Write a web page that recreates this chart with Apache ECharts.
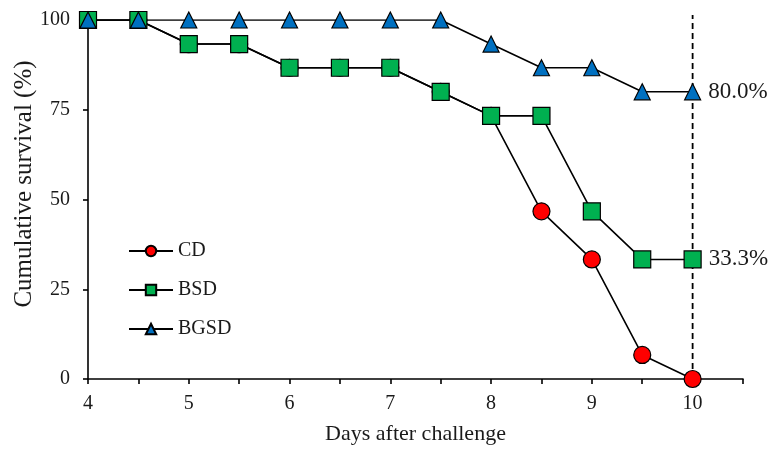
<!DOCTYPE html>
<html><head><meta charset="utf-8">
<script src="https://cdn.jsdelivr.net/npm/echarts@6/dist/echarts.min.js"></script>
<style>html,body{margin:0;padding:0;background:#fff}#c{width:769px;height:450px}</style>
</head><body><div id="c"></div>
<script>
const days = [4, 4.5, 5, 5.5, 6, 6.5, 7, 7.5, 8, 8.5, 9, 9.5, 10];
const cd   = [100, 100, 93.3, 93.3, 86.7, 86.7, 86.7, 80, 73.3, 46.7, 33.3, 6.7, 0];
const bsd  = [100, 100, 93.3, 93.3, 86.7, 86.7, 86.7, 80, 73.3, 73.3, 46.7, 33.3, 33.3];
const bgsd = [100, 100, 100, 100, 100, 100, 100, 100, 93.3, 86.7, 86.7, 80, 80];
const seriesNames = ['CD', 'BSD', 'BGSD'];
const endLabels = [null, '33.3%', '80.0%'];
const yTicks = [0, 25, 50, 75, 100];
const refDay = [10, 10];
const refRange = [0, 101.4];

const font = 'Liberation Serif';
const txt = '#1a1a1a';
function mk(name, vals, sym, size, color, lbl) {
  return {
    name, type: 'line', symbol: sym, symbolSize: size,
    z: 3,
    data: vals.map((v, i) => {
      const d = { value: [days[i], v] };
      if (lbl && i === vals.length - 1) {
        d.label = { show: true, position: 'right', distance: 7, formatter: lbl,
          fontFamily: font, fontSize: 23, color: txt };
      }
      return d;
    }),
    lineStyle: { color: '#000', width: 1.6 },
    itemStyle: { color: color, borderColor: '#000', borderWidth: 1.2 },
    emphasis: { disabled: true },
    animation: false
  };
}
const series = [
  {
    name: 'ref', type: 'line', symbol: 'none', clip: false, z: 1,
    data: refDay.map((d, i) => [d, refRange[i]]),
    lineStyle: { color: '#000', width: 1.8, type: [6, 4] },
    emphasis: { disabled: true }, silent: true, animation: false
  },
  mk(seriesNames[0], cd, 'circle', 17, '#FF0000', endLabels[0]),
  mk(seriesNames[1], bsd, 'rect', 17, '#00B050', endLabels[1]),
  mk(seriesNames[2], bgsd, 'triangle', 16, '#0070C0', endLabels[2])
];

const chart = echarts.init(document.getElementById('c'), null, { renderer: 'canvas' });
chart.setOption({
  animation: false,
  grid: { left: 88, right: 26, top: 20, bottom: 68, containLabel: false },
  legend: {
    orient: 'vertical', left: 123, top: 236, itemWidth: 44, itemHeight: 13, itemGap: 19,
    data: seriesNames,
    textStyle: { fontFamily: font, fontSize: 20, color: txt }
  },
  graphic: [{
    type: 'text', x: 24, y: 184, rotation: Math.PI / 2,
    style: { text: 'Cumulative survival (%)', fontFamily: font, fontSize: 25, fill: txt,
      textAlign: 'center', textVerticalAlign: 'middle' }
  }],
  xAxis: {
    type: 'value', min: 4, max: 10.5, interval: 0.5,
    name: 'Days after challenge', nameLocation: 'middle', nameGap: 44,
    nameTextStyle: { fontFamily: font, fontSize: 22, color: txt },
    axisLine: { lineStyle: { color: '#000', width: 1.6 } },
    axisTick: { show: true, length: 5, lineStyle: { color: '#000', width: 1.6 } },
    axisLabel: { fontFamily: font, fontSize: 20, color: txt, margin: 15,
      formatter: v => (Math.abs(v - Math.round(v)) < 1e-9 ? String(Math.round(v)) : '') },
    splitLine: { show: false }
  },
  yAxis: {
    type: 'value', min: 0, max: 100, interval: 25,
    axisLine: { show: true, lineStyle: { color: '#000', width: 1.6 } },
    axisTick: { show: true, length: 5, lineStyle: { color: '#000', width: 1.6 } },
    axisLabel: { fontFamily: font, fontSize: 20, color: txt, margin: 18,
      formatter: v => (yTicks.includes(v) ? String(v) : '') },
    splitLine: { show: false }
  },
  series
});
</script></body></html>
